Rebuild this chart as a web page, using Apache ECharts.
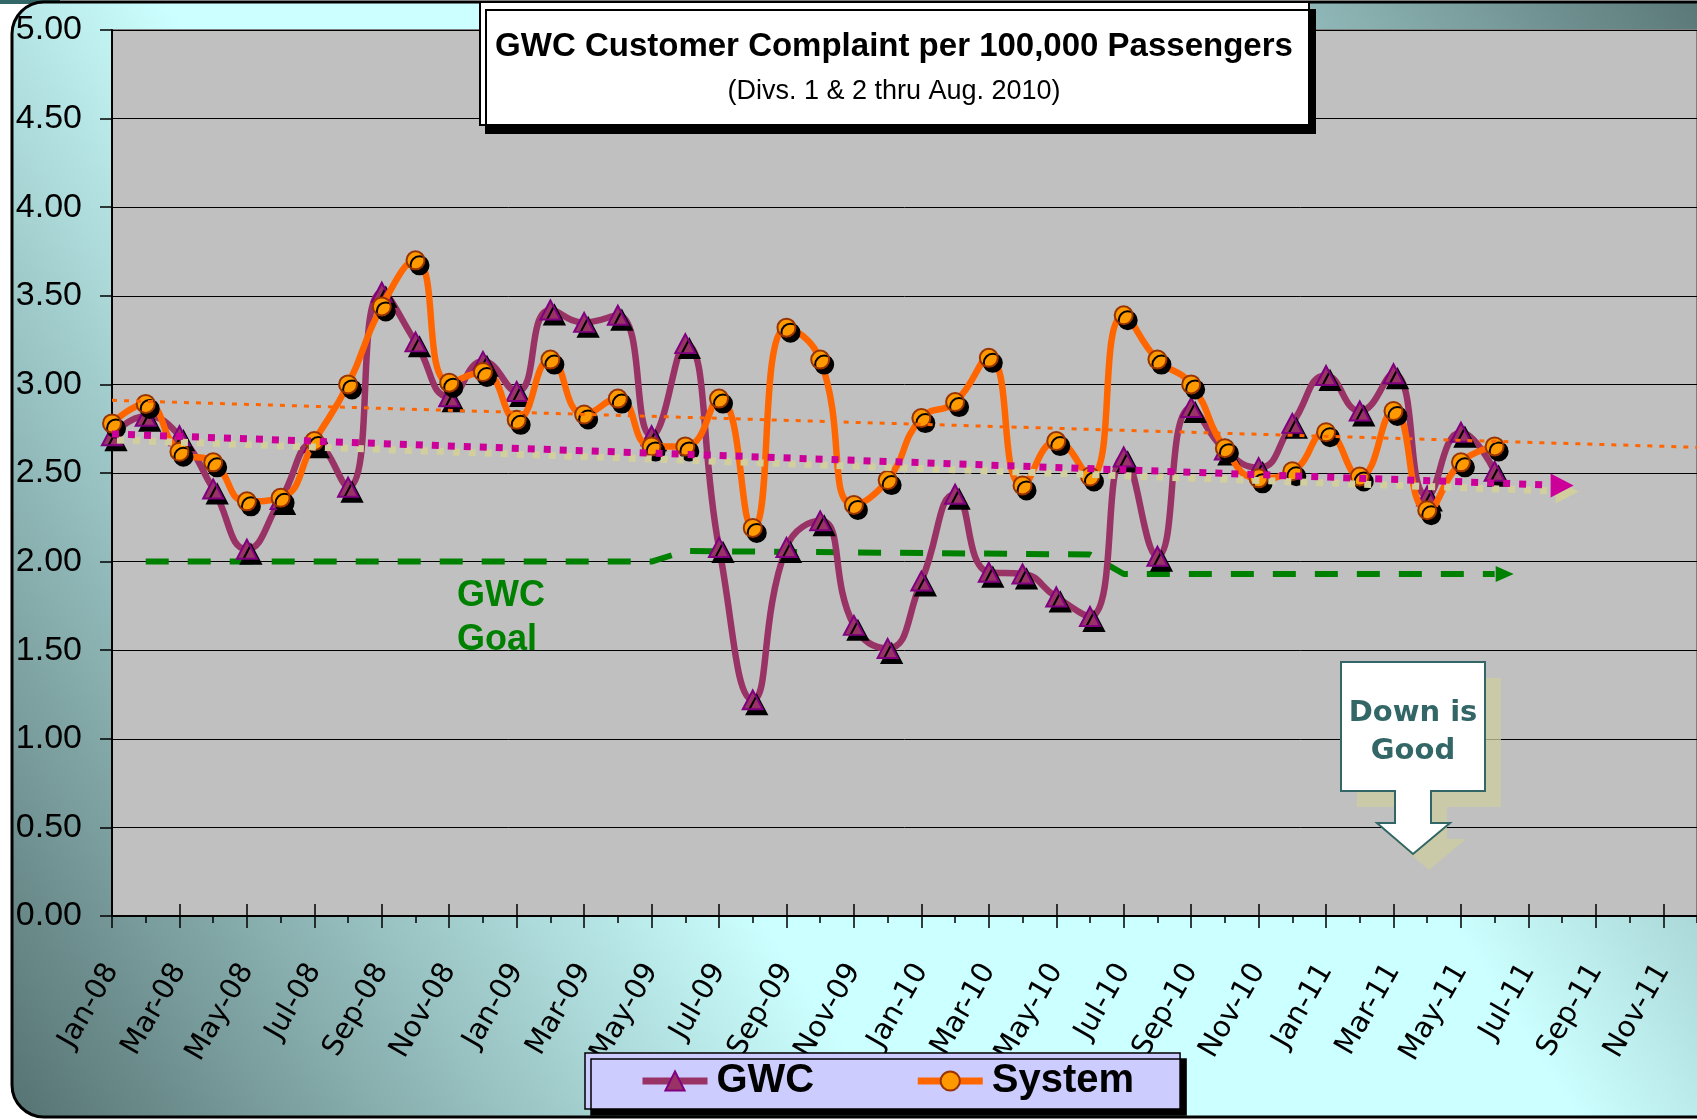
<!DOCTYPE html>
<html><head><meta charset="utf-8">
<script src="https://cdn.jsdelivr.net/npm/echarts@6/dist/echarts.min.js"></script>
<style>html,body{margin:0;padding:0;background:#fff}#c{width:1697px;height:1120px}</style>
</head><body><div id="c"></div>
<script>
const months = ['Jan-08','Feb-08','Mar-08','Apr-08','May-08','Jun-08','Jul-08','Aug-08','Sep-08','Oct-08','Nov-08','Dec-08',
  'Jan-09','Feb-09','Mar-09','Apr-09','May-09','Jun-09','Jul-09','Aug-09','Sep-09','Oct-09','Nov-09','Dec-09',
  'Jan-10','Feb-10','Mar-10','Apr-10','May-10','Jun-10','Jul-10','Aug-10','Sep-10','Oct-10','Nov-10','Dec-10',
  'Jan-11','Feb-11','Mar-11','Apr-11','May-11','Jun-11','Jul-11','Aug-11','Sep-11','Oct-11','Nov-11','Dec-11'];
const gwc = [2.71,2.82,2.71,2.41,2.07,2.35,2.67,2.42,3.52,3.24,2.93,3.13,
  2.96,3.42,3.35,3.39,2.71,3.23,2.08,1.22,2.08,2.23,1.64,1.51,
  1.89,2.38,1.94,1.93,1.80,1.69,2.59,2.03,2.87,2.63,2.53,2.78,
  3.05,2.85,3.06,2.37,2.73,2.51];
const system = [2.78,2.89,2.62,2.56,2.34,2.36,2.68,3.00,3.44,3.70,3.01,3.07,
  2.80,3.14,2.83,2.92,2.65,2.65,2.92,2.19,3.32,3.14,2.32,2.46,
  2.81,2.90,3.15,2.43,2.68,2.48,3.39,3.14,3.00,2.64,2.47,2.51,
  2.73,2.48,2.85,2.29,2.56,2.65];
const gwcTrend = [[0,2.72],[43,2.43]];
const systemTrend = [[0,2.91],[47,2.645]];
const goal = [[1,2.00],[16,2.00],[17,2.06],[29,2.04],[30,1.93],[41,1.93]];
const yMin = 0, yMax = 5, yStep = 0.5;

const ARROW = 'path://M0,0L10,5L0,10Z';
const chart = echarts.init(document.getElementById('c'), null, {renderer:'canvas'});

function withArrow(pts, size, offset, color, shadow) {
  return pts.map((p, i) => i === pts.length - 1
    ? {value: p, symbol: ARROW, symbolSize: size, symbolOffset: offset,
       itemStyle: Object.assign({color: color}, shadow || {})}
    : {value: p});
}

const baseX = {
  type: 'category', data: months, boundaryGap: false, gridIndex: 0, position: 'bottom'
};

chart.setOption({
  backgroundColor: '#ffffff',
  animation: false,
  grid: {left: 112, top: 30, width: 1593, height: 886, show: true,
    backgroundColor: '#c0c0c0', borderColor: '#808080', borderWidth: 2},
  xAxis: [
    Object.assign({}, baseX, {
      axisLine: {show: true, lineStyle: {color: '#000', width: 2}},
      axisTick: {show: true, interval: 1, length: 12, lineStyle: {color: '#000', width: 1.5}},
      axisLabel: {show: true, interval: 1, rotate: 60, margin: 50,
        fontFamily: 'DejaVu Sans', fontSize: 29, color: '#000'},
      splitLine: {show: false}
    }),
    Object.assign({}, baseX, {
      axisLine: {show: false},
      axisTick: {show: true, inside: true, interval: 1, length: 12, lineStyle: {color: '#000', width: 1.5}},
      axisLabel: {show: false}, splitLine: {show: false}
    }),
    Object.assign({}, baseX, {
      axisLine: {show: false},
      axisTick: {show: true, interval: 0, length: 7, lineStyle: {color: '#000', width: 1.5}},
      axisLabel: {show: false}, splitLine: {show: false}
    })
  ],
  yAxis: {
    type: 'value', min: yMin, max: yMax, interval: yStep,
    axisLine: {show: true, lineStyle: {color: '#000', width: 2}},
    axisTick: {show: true, length: 12, lineStyle: {color: '#000', width: 1.5}},
    axisLabel: {formatter: v => v.toFixed(2), fontFamily: 'Liberation Sans', fontSize: 34,
      color: '#000', margin: 30},
    splitLine: {show: true, lineStyle: {color: '#000', width: 1}}
  },
  legend: {
    data: ['GWC', 'System'], left: 585, top: 1053, orient: 'horizontal',
    itemWidth: 65, itemHeight: 24, itemGap: 100,
    padding: [8, 46, 8, 54],
    backgroundColor: '#ccccff', borderColor: '#000', borderWidth: 1.5,
    shadowColor: '#000', shadowOffsetX: 6, shadowOffsetY: 6, shadowBlur: 0,
    lineStyle: {width: 7},
    textStyle: {fontFamily: 'Liberation Sans', fontWeight: 'bold', fontSize: 40, color: '#000',
      lineHeight: 40, padding: [0, 0, 0, 4]}
  },
  series: [
    {
      name: 'goal', type: 'line', data: withArrow(goal, [18, 16], [10, 0], '#008000'),
      symbol: 'none', showAllSymbol: true, z: 1,
      lineStyle: {color: '#008000', width: 6, type: [23, 19]},
      itemStyle: {color: '#008000'}, silent: true
    },
    {
      name: 'GWC', type: 'line', data: gwc, smooth: 0.5, z: 2,
      symbol: 'triangle', symbolSize: [20, 19], showAllSymbol: true,
      lineStyle: {color: '#993366', width: 6.5},
      itemStyle: {color: '#993366', borderColor: '#800080', borderWidth: 2,
        shadowColor: '#000', shadowOffsetX: 4, shadowOffsetY: 5, shadowBlur: 0}
    },
    {
      name: 'System', type: 'line', data: system, smooth: 0.5, z: 3,
      symbol: 'circle', symbolSize: 18, showAllSymbol: true,
      lineStyle: {color: '#ff6600', width: 6.5},
      itemStyle: {color: '#ff9900', borderColor: '#993300', borderWidth: 2,
        shadowColor: '#000', shadowOffsetX: 4, shadowOffsetY: 5, shadowBlur: 0}
    },
    {
      name: 'systemTrend', type: 'line', data: systemTrend, symbol: 'none', z: 4, silent: true,
      lineStyle: {color: '#ff6600', width: 3, type: [5, 7]}
    },
    {
      name: 'gwcTrend', type: 'line', z: 5, silent: true, symbol: 'none', showAllSymbol: true,
      data: withArrow(gwcTrend, [23, 24], [0, 0], '#cc0099',
        {shadowColor: '#d2cf9e', shadowOffsetX: 5, shadowOffsetY: 6, shadowBlur: 0}),
      lineStyle: {color: '#cc0099', width: 7, type: [7, 9],
        shadowColor: '#d2cf9e', shadowOffsetX: 5, shadowOffsetY: 6, shadowBlur: 0}
    }
  ],
  graphic: [
    {type: 'rect', z: -100, silent: true, shape: {x: 12, y: 2, width: 1720, height: 1115, r: 32},
      style: {fill: new echarts.graphic.LinearGradient(0, 1, 1, 0, [
        {offset: 0, color: '#567272'}, {offset: 0.36, color: '#ccffff'},
        {offset: 0.64, color: '#ccffff'}, {offset: 1, color: '#567272'}]),
        stroke: '#000', lineWidth: 3}},
    {type: 'rect', z: -101, silent: true, shape: {x: 0, y: 0, width: 60, height: 4}, style: {fill: '#336666'}},
    // title box
    {type: 'rect', z: 100, silent: true, shape: {x: 480, y: 2, width: 829, height: 123},
      style: {fill: '#fff', stroke: '#000', lineWidth: 2,
        shadowColor: '#000', shadowOffsetX: 6, shadowOffsetY: 8, shadowBlur: 0}},
    {type: 'text', z: 101, silent: true, style: {text: 'GWC Customer Complaint per 100,000 Passengers',
      x: 894, y: 47, align: 'center', verticalAlign: 'middle', fill: '#000',
      fontFamily: 'Liberation Sans', fontWeight: 'bold', fontSize: 33}},
    {type: 'text', z: 101, silent: true, style: {text: '(Divs. 1 & 2 thru Aug. 2010)',
      x: 894, y: 92, align: 'center', verticalAlign: 'middle', fill: '#000',
      fontFamily: 'Liberation Sans', fontSize: 27}},
    // goal label
    {type: 'text', z: 50, silent: true, style: {text: 'GWC', x: 457, y: 596, align: 'left',
      verticalAlign: 'middle', fill: '#008000', fontFamily: 'Liberation Sans', fontWeight: 'bold', fontSize: 36}},
    {type: 'text', z: 50, silent: true, style: {text: 'Goal', x: 457, y: 640, align: 'left',
      verticalAlign: 'middle', fill: '#008000', fontFamily: 'Liberation Sans', fontWeight: 'bold', fontSize: 36}},
    // down is good callout
    {type: 'polygon', z: 60, silent: true, shape: {points: [[1357,678],[1501,678],[1501,807],[1447,807],[1447,839],
      [1466,839],[1429,870],[1393,839],[1411,839],[1411,807],[1357,807]]},
      style: {fill: 'rgba(205,205,160,0.75)'}},
    {type: 'polygon', z: 61, silent: true, shape: {points: [[1341,662],[1485,662],[1485,791],[1431,791],[1431,823],
      [1450,823],[1413,854],[1377,823],[1395,823],[1395,791],[1341,791]]},
      style: {fill: '#fff', stroke: '#336666', lineWidth: 2}},
    {type: 'text', z: 62, silent: true, style: {text: 'Down is', x: 1413, y: 713, align: 'center',
      verticalAlign: 'middle', fill: '#336666', fontFamily: 'DejaVu Sans', fontWeight: 'bold', fontSize: 29}},
    {type: 'text', z: 62, silent: true, style: {text: 'Good', x: 1413, y: 751, align: 'center',
      verticalAlign: 'middle', fill: '#336666', fontFamily: 'DejaVu Sans', fontWeight: 'bold', fontSize: 29}}
  ]
});
</script></body></html>
